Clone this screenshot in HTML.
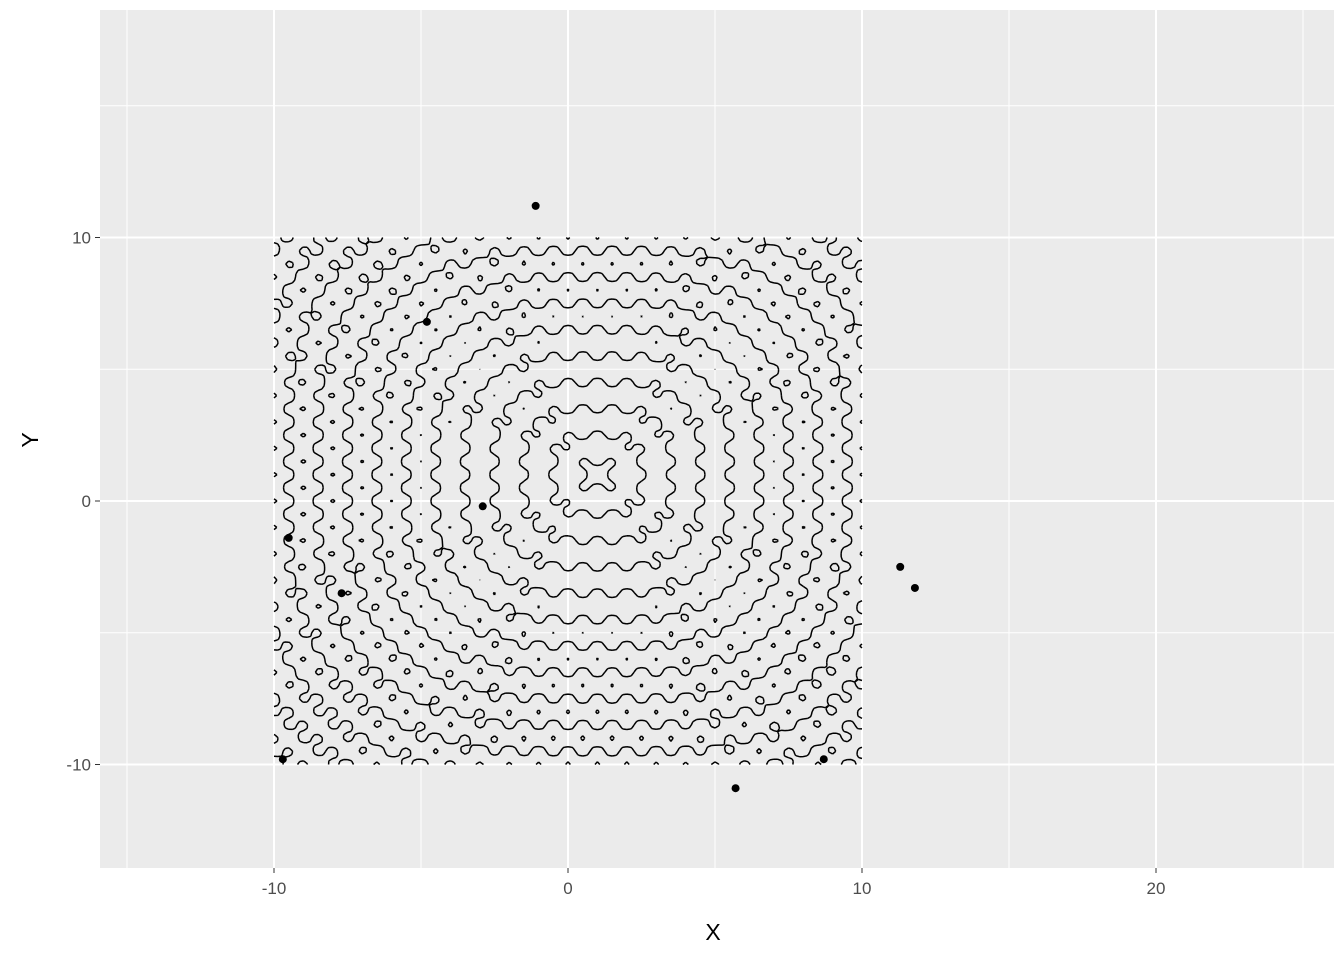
<!DOCTYPE html>
<html><head><meta charset="utf-8"><style>
body{margin:0;background:#fff;}
svg text{font-family:"Liberation Sans",sans-serif;}
</style></head><body>
<svg id="chart" width="1344" height="960">
<rect x="100" y="10" width="1234" height="858" fill="#ebebeb"/>
<g id="grid"></g>
<g id="contours"></g>
<g id="points"></g>
<g id="axes"></g>
<text x="713" y="940" font-size="23" text-anchor="middle" fill="#000">X</text>
<text transform="translate(38,440) rotate(-90)" font-size="23" text-anchor="middle" fill="#000">Y</text>
</svg>
<script>
const xMajor=[-10,0,10,20];
const xMinor=[-15,-5,5,15,25];
const yMajor=[-10,0,10];
const yMinor=[-5,5,15];
const pointX=[-1.1,-4.8,-2.9,-9.5,-7.7,-9.7,5.7,8.7,11.3,11.8];
const pointY=[11.2,6.8,-0.2,-1.4,-3.5,-9.8,-10.9,-9.8,-2.5,-3.3];
const contourLevels=[0];
const gridMin=-10, gridMax=10, gridStep=0.125;

const sx=v=>568+v*29.4;
const sy=v=>501-v*26.35;
const NS='http://www.w3.org/2000/svg';
function mk(tag,attrs,parent){const e=document.createElementNS(NS,tag);for(const k in attrs)e.setAttribute(k,attrs[k]);parent.appendChild(e);return e;}
const grid=document.getElementById('grid');
xMinor.forEach(v=>{const l=mk('line',{x1:sx(v),x2:sx(v),y1:10,y2:868,stroke:'#fff','stroke-width':1},grid);

});
yMinor.forEach(v=>{const l=mk('line',{x1:100,x2:1334,y1:sy(v),y2:sy(v),stroke:'#fff','stroke-width':1},grid);

});
const axes=document.getElementById('axes');
xMajor.forEach(v=>{const l=mk('line',{x1:sx(v),x2:sx(v),y1:10,y2:868,stroke:'#fff','stroke-width':2},grid);


const t=mk('line',{x1:sx(v),x2:sx(v),y1:868,y2:873,stroke:'#333','stroke-width':1},axes);


const tx=mk('text',{x:sx(v),y:894,'font-size':17,'text-anchor':'middle',fill:'#4d4d4d'},axes);tx.textContent=v;

});
yMajor.forEach(v=>{const l=mk('line',{x1:100,x2:1334,y1:sy(v),y2:sy(v),stroke:'#fff','stroke-width':2},grid);


const t=mk('line',{x1:95,x2:100,y1:sy(v),y2:sy(v),stroke:'#333','stroke-width':1},axes);


const tx=mk('text',{x:91,y:sy(v)+6,'font-size':17,'text-anchor':'end',fill:'#4d4d4d'},axes);tx.textContent=v;

});

function f(x,y){const a=x-1,b=y-1;
const r=Math.pow(Math.pow(Math.abs(a),3)+Math.pow(Math.abs(b),3),1/3);
return Math.cos(Math.PI*r)+(0.8+0.04*r)*Math.cos(2*Math.PI*a)*Math.cos(2*Math.PI*b);}
let d='';
const n=Math.round((gridMax-gridMin)/gridStep);
contourLevels.forEach(L=>{
for(let i=0;i<n;i++)for(let j=0;j<n;j++){
const x0=gridMin+i*gridStep,y0=gridMin+j*gridStep,x1=x0+gridStep,y1=y0+gridStep;
const c=[[x0,y0,f(x0,y0)],[x1,y0,f(x1,y0)],[x1,y1,f(x1,y1)],[x0,y1,f(x0,y1)]];
const pts=[];
for(let k=0;k<4;k++){const p=c[k],q=c[(k+1)%4];
if((p[2]>L)!==(q[2]>L)){const t=(L-p[2])/(q[2]-p[2]);pts.push([p[0]+t*(q[0]-p[0]),p[1]+t*(q[1]-p[1])]);}}
for(let k=0;k+1<pts.length;k+=2)d+='M'+sx(pts[k][0]).toFixed(1)+' '+sy(pts[k][1]).toFixed(1)+'L'+sx(pts[k+1][0]).toFixed(1)+' '+sy(pts[k+1][1]).toFixed(1);
}});
const cp=mk('path',{d:d,fill:'none',stroke:'#000','stroke-width':1.5},document.getElementById('contours'));


const pg=document.getElementById('points');
pointX.forEach((v,i)=>{const c=mk('circle',{cx:sx(v),cy:sy(pointY[i]),r:4,fill:'#000'},pg);

});
</script>
</body></html>
